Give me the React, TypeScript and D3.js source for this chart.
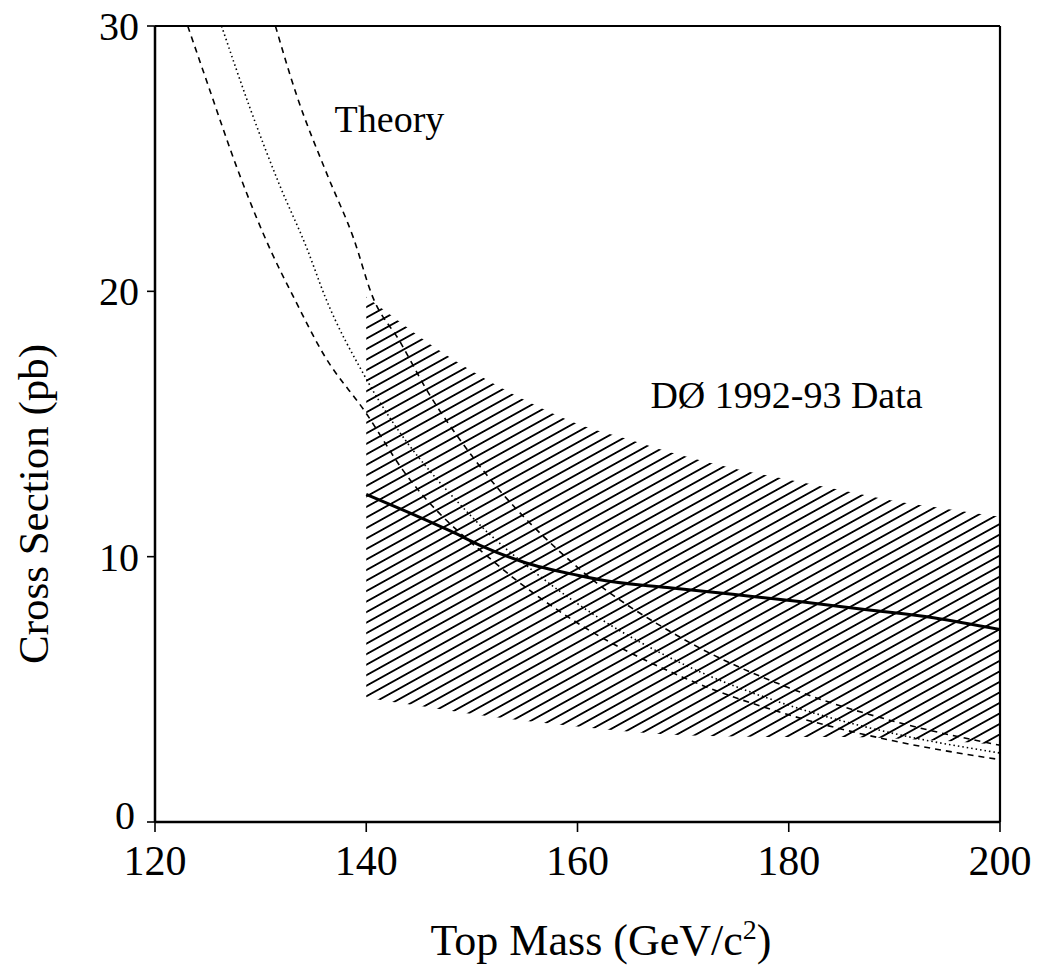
import React from 'react'
import * as d3 from 'd3'

// top mass (GeV/c^2) and cross sections (pb)
const upperTheoryMass = [131.4, 133.4, 136.3, 138.8, 140.6, 143.2, 145.7, 150, 160, 170, 180, 190, 200]
const upperTheorySigma = [30, 27.4, 24.4, 22.0, 19.8, 18.1, 16.3, 13.8, 9.6, 6.9, 5.06, 3.79, 2.89]

const centralTheoryMass = [126.3, 129, 131.8, 134.4, 136.1, 140, 150, 156, 162, 170, 180, 190, 200]
const centralTheorySigma = [30, 26.9, 24.0, 21.6, 19.8, 16.7, 11.5, 9.4, 7.7, 5.95, 4.4, 3.33, 2.6]

const lowerTheoryMass = [123.1, 125, 128, 131, 133.1, 136, 140, 143.4, 152.4, 160, 170, 180, 190, 200]
const lowerTheorySigma = [30, 27.8, 24.4, 21.5, 19.8, 17.6, 15.4, 13.3, 9.7, 7.5, 5.45, 4.04, 3.05, 2.35]

const bandMass = [140, 142, 145, 150, 155, 160, 165, 170, 175, 180, 185, 190, 195, 200]
const bandUpper = [19.8, 19.2, 18.3, 17.0, 15.9, 15.0, 14.4, 13.8, 13.3, 12.9, 12.5, 12.1, 11.8, 11.5]
const bandLower = [4.7, 4.55, 4.38, 4.07, 3.82, 3.6, 3.4, 3.27, 3.22, 3.2, 3.2, 3.15, 3.05, 2.9]

const dataMass = [140, 144, 148, 151, 155, 160, 163, 168.5, 174.7, 181, 187.4, 193.7, 200]
const dataSigma = [12.35, 11.67, 10.96, 10.39, 9.78, 9.3, 9.07, 8.84, 8.58, 8.31, 8.0, 7.7, 7.25]

const massTicks = [120, 140, 160, 180, 200]
const sigmaTicks = [0, 10, 20, 30]

const FONT = '"Liberation Serif", "DejaVu Serif", serif'

export default function App() {
  const width = 1038
  const height = 967
  const margin = { top: 26, right: 38, bottom: 145, left: 155 }

  const x = d3.scaleLinear().domain([120, 200]).range([margin.left, width - margin.right])
  const y = d3.scaleLinear().domain([0, 30]).range([height - margin.bottom, margin.top])

  const zip = (ms: number[], ss: number[]) => ms.map((m, i) => [m, ss[i]] as [number, number])

  const curve = d3.line<[number, number]>()
    .x(d => x(d[0]))
    .y(d => y(d[1]))
    .curve(d3.curveMonotoneX)

  const band = d3.area<number>()
    .x(m => x(m))
    .y0((m, i) => y(bandLower[i]))
    .y1((m, i) => y(bandUpper[i]))
    .curve(d3.curveMonotoneX)

  const x0 = x(120), x1 = x(200), yb = y(0), yt = y(30)

  return (
    <svg width={width} height={height} style={{ position: 'absolute', left: 0, top: 0, background: '#fff' }}
      fontFamily={FONT}>
      <defs>
        <clipPath id="plot">
          <rect x={x0} y={yt} width={x1 - x0} height={yb - yt} />
        </clipPath>
        <pattern id="hatch" patternUnits="userSpaceOnUse" width={40} height={9.2}
          patternTransform="rotate(-29)">
          <line x1={0} x2={40} y1={4.6} y2={4.6} stroke="#000" strokeWidth={1.8} />
        </pattern>
      </defs>

      {/* DØ data band */}
      <path d={band(bandMass) || ''} fill="url(#hatch)" />

      <g clipPath="url(#plot)" fill="none" stroke="#000">
        <path d={curve(zip(upperTheoryMass, upperTheorySigma)) || ''} strokeWidth={1.6} strokeDasharray="6,5" />
        <path d={curve(zip(centralTheoryMass, centralTheorySigma)) || ''} strokeWidth={1.6} strokeDasharray="1.5,3" />
        <path d={curve(zip(lowerTheoryMass, lowerTheorySigma)) || ''} strokeWidth={1.6} strokeDasharray="6,5" />
        <path d={curve(zip(dataMass, dataSigma)) || ''} strokeWidth={3} />
      </g>

      {/* frame */}
      <line x1={x0} x2={x1} y1={yt} y2={yt} stroke="#000" strokeWidth={2} />
      <line x1={x1} x2={x1} y1={yt} y2={yb} stroke="#000" strokeWidth={2.2} />
      <line x1={x0} x2={x1} y1={yb} y2={yb} stroke="#000" strokeWidth={2.5} />
      <line x1={x0} x2={x0} y1={yt} y2={yb} stroke="#000" strokeWidth={2.5} />

      {/* x axis */}
      {massTicks.map(t => (
        <g key={'x' + t}>
          <line x1={x(t)} x2={x(t)} y1={yb} y2={yb + 10} stroke="#000" strokeWidth={1.6} />
          <text x={x(t)} y={yb + 53} textAnchor="middle" fontSize={42}>{t}</text>
        </g>
      ))}

      {/* y axis */}
      {sigmaTicks.map(t => (
        <g key={'y' + t}>
          <line x1={x0 - 8} x2={x0} y1={y(t)} y2={y(t)} stroke="#000" strokeWidth={1.6} />
          <text x={x0 - (t === 0 ? 20 : 16)} y={y(t) - (t === 0 ? 7 : 0)} dy="0.35em" textAnchor="end" fontSize={40}>{t}</text>
        </g>
      ))}

      <text x={601} y={955} textAnchor="middle" fontSize={44}>
        Top Mass (GeV/c<tspan dy={-16} fontSize={28}>2</tspan><tspan dy={16}>)</tspan>
      </text>
      <text transform={`translate(48,504) rotate(-90)`} textAnchor="middle" fontSize={43}>
        Cross Section (pb)
      </text>

      <text x={x(137)} y={y(26)} fontSize={38}>Theory</text>
      <text x={x(166.9)} y={y(15.6)} fontSize={38}>DØ 1992-93 Data</text>
    </svg>
  )
}
